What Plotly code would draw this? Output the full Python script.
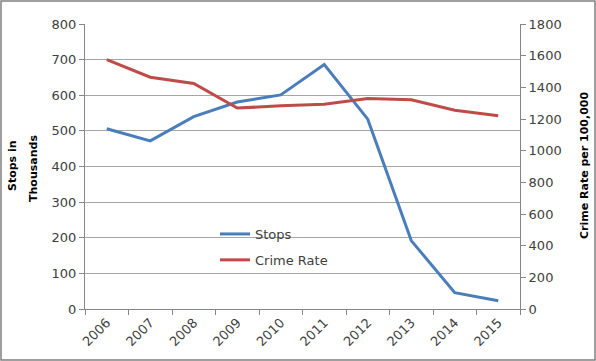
import plotly.graph_objects as go

years = ["2006", "2007", "2008", "2009", "2010", "2011", "2012", "2013", "2014", "2015"]
stops = [506, 472, 540, 581, 601, 686, 533, 192, 46, 23]
crime_rate = [1575, 1464, 1424, 1269, 1283, 1293, 1329, 1322, 1255, 1221]

L, R, T, B = 85, 76, 24, 52
W, H = 596, 361
pw, ph = W - L - R, H - T - B

def px_x(p):
    return (p - L) / pw

def px_y(p):
    return (H - B - p) / ph

FAM = "'DejaVu Sans', Verdana, sans-serif"
font = dict(family=FAM, size=13, color="#404040")
title_font = dict(family=FAM, size=11, color="black")

fig = go.Figure()
fig.add_trace(go.Scatter(x=years, y=stops, name="Stops", mode="lines",
                         line=dict(color="#4a7ebb", width=3), legendgroup="a"))
fig.add_trace(go.Scatter(x=years, y=crime_rate, name="Crime Rate", mode="lines",
                         line=dict(color="#be4b48", width=3), yaxis="y2", legendgroup="b"))

fig.update_layout(
    width=W, height=H,
    margin=dict(l=L, r=R, t=T, b=B, autoexpand=False),
    paper_bgcolor="white", plot_bgcolor="white",
    font=font,
    showlegend=True,
    legend=dict(x=px_x(215), y=px_y(219), xanchor="left", yanchor="top",
                bgcolor="rgba(0,0,0,0)", tracegroupgap=6, font=font),
    xaxis=dict(type="category", range=[-0.5, 9.5], tickson="boundaries",
               ticks="outside", ticklen=5, tickcolor="#868686", automargin=False,
               showline=True, linecolor="#868686", linewidth=1,
               showgrid=False, tickangle=-45, tickfont=font),
    yaxis=dict(range=[0, 800], dtick=100, ticks="outside", ticklen=5, automargin=False,
               tickcolor="#868686", showline=True, linecolor="#868686",
               gridcolor="#a6a6a6", gridwidth=1, zeroline=False, tickfont=font),
    yaxis2=dict(range=[0, 1800], dtick=200, overlaying="y", side="right",
                ticks="outside", ticklen=5, tickcolor="#868686", automargin=False,
                showline=True, linecolor="#868686", showgrid=False,
                zeroline=False, tickfont=font),
    annotations=[
        dict(text="<b>Stops in</b>", xref="paper", yref="paper",
             x=px_x(12), y=px_y(166), xanchor="center", yanchor="middle",
             textangle=-90, showarrow=False, font=title_font),
        dict(text="<b>Thousands</b>", xref="paper", yref="paper",
             x=px_x(33), y=px_y(169), xanchor="center", yanchor="middle",
             textangle=-90, showarrow=False, font=title_font),
        dict(text="<b>Crime Rate per 100,000</b>", xref="paper", yref="paper",
             x=px_x(584), y=px_y(166), xanchor="center", yanchor="middle",
             textangle=-90, showarrow=False, font=title_font),
    ],
    shapes=[
        dict(type="rect", xref="paper", yref="paper",
             x0=px_x(1), x1=px_x(595), y0=px_y(360), y1=px_y(1),
             line=dict(color="#808080", width=1.5), layer="below"),
    ],
)

fig.write_html("out.html", config={"displayModeBar": False},
               post_script="document.body.style.margin='0';document.body.style.overflow='hidden';")
